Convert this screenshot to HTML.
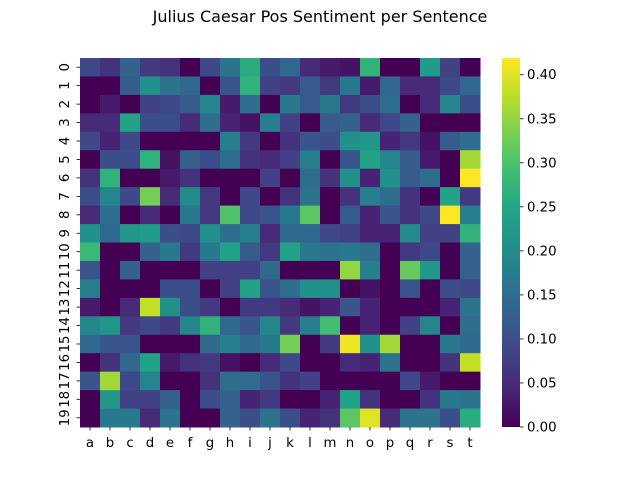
<!DOCTYPE html>
<html><head><meta charset="utf-8"><style>
body{margin:0;background:#fff;}
svg{display:block;font-family:"DejaVu Sans","Liberation Sans",sans-serif;}
</style></head><body>
<svg id="chart" width="640" height="480" viewBox="0 0 640 480" xmlns="http://www.w3.org/2000/svg">
<defs><linearGradient id="vg" x1="0" y1="1" x2="0" y2="0">
<stop offset="0" stop-color="#440154"/><stop offset="0.1" stop-color="#482475"/><stop offset="0.2" stop-color="#414487"/><stop offset="0.3" stop-color="#355f8d"/><stop offset="0.4" stop-color="#2a788e"/><stop offset="0.5" stop-color="#21918c"/><stop offset="0.6" stop-color="#22a884"/><stop offset="0.7" stop-color="#44bf70"/><stop offset="0.8" stop-color="#7ad151"/><stop offset="0.9" stop-color="#bddf26"/><stop offset="1" stop-color="#fde725"/>
</linearGradient></defs>
<text x="320" y="22" text-anchor="middle" font-size="16">Julius Caesar Pos Sentiment per Sentence</text>
<g id="cells"></g>
<g id="xaxis"></g>
<g id="yaxis"></g>
<rect x="502" y="58" width="18" height="369" fill="url(#vg)"/>
<g id="cbaxis"></g>
</svg>
<script>
const cols = ["a","b","c","d","e","f","g","h","i","j","k","l","m","n","o","p","q","r","s","t"];
const rows = ["0","1","2","3","4","5","6","7","8","9","10","11","12","13","14","15","16","17","18","19"];
const cbTicks = [0,0.05,0.10,0.15,0.20,0.25,0.30,0.35,0.40];
const cbLabels = ["0.00","0.05","0.10","0.15","0.20","0.25","0.30","0.35","0.40"];
const values = [
[0.09,0.06,0.13,0.07,0.06,0,0.09,0.16,0.26,0.10, 0.14,0.05,0.03,0.02,0.27,0,0,0.23,0.08,0],
[0,0,0.12,0.21,0.16,0.14,0,0.11,0.27,0.08, 0.07,0.12,0.07,0.17,0.03,0.14,0.05,0.05,0.09,0.14],
[0,0.03,0,0.08,0.09,0.12,0.19,0.03,0.15,0, 0.17,0.12,0.17,0.07,0.10,0.15,0,0.05,0.19,0.10],
[0.05,0.05,0.24,0.10,0.10,0.05,0.15,0.04,0.02,0.18, 0.08,0,0.12,0.13,0.05,0.09,0.13,0,0,0],
[0.09,0.04,0.09,0,0,0,0,0.18,0.07,0, 0.06,0.11,0.10,0.21,0.22,0.04,0.07,0.02,0.12,0.15],
[0,0.10,0.10,0.27,0.02,0.13,0.10,0.15,0.06,0.05, 0.08,0.18,0,0.11,0.24,0.19,0.12,0.03,0,0.36],
[0.06,0.27,0,0,0.03,0.06,0,0,0,0.08, 0,0.15,0.06,0.21,0.04,0.21,0.12,0.15,0,0.42],
[0.10,0.19,0.09,0.33,0.05,0.20,0.07,0,0.09,0, 0.06,0.16,0,0.06,0.18,0.15,0.06,0,0.24,0.07],
[0.05,0.15,0,0.05,0,0.17,0.07,0.30,0.09,0.11, 0.17,0.31,0,0.12,0.04,0.11,0.06,0.09,0.42,0.18],
[0.21,0.14,0.22,0.23,0.10,0.09,0.21,0.15,0.18,0.05, 0.14,0.14,0.09,0.08,0.04,0.04,0.20,0.08,0.08,0.27],
[0.28,0,0,0.13,0.17,0.07,0.17,0.24,0.12,0.07, 0.24,0.17,0.16,0.17,0.15,0,0.07,0.09,0,0.13],
[0.11,0,0.13,0,0,0,0.08,0.08,0.08,0.14, 0,0,0,0.35,0.18,0,0.32,0.22,0,0.13],
[0.18,0,0,0,0.10,0.10,0,0.08,0.24,0.11, 0.15,0.21,0.21,0,0.02,0,0.11,0,0.10,0.09],
[0.03,0,0.05,0.38,0.21,0.10,0.07,0,0.07,0.07, 0.05,0.02,0.04,0.11,0.04,0,0,0,0.04,0.16],
[0.19,0.22,0.07,0.09,0.07,0.19,0.27,0.14,0.11,0.19, 0.07,0.18,0.29,0,0.04,0,0.08,0.19,0,0.15],
[0.14,0.11,0.11,0,0,0,0.14,0.18,0.14,0.17, 0.33,0,0.07,0.41,0.21,0.36,0,0,0.17,0.14],
[0,0.06,0.14,0.24,0.03,0.06,0.07,0.02,0,0.05, 0.09,0,0,0.05,0.04,0.16,0,0,0.06,0.38],
[0.11,0.36,0.09,0.19,0,0,0.06,0.15,0.15,0.11, 0.06,0.08,0,0,0,0,0.09,0.03,0,0],
[0,0.22,0.08,0.08,0.13,0,0.10,0.13,0.04,0.07, 0,0,0.04,0.24,0.06,0,0,0.06,0.17,0.16],
[0,0.17,0.17,0.05,0.16,0,0,0.13,0.10,0.16, 0.10,0.04,0.06,0.31,0.40,0.05,0.16,0.16,0.10,0.26]
];
const VMAX = 0.419;
const X0=80, Y0=58, W=400, H=369;
const stops=["#440154","#482475","#414487","#355f8d","#2a788e","#21918c","#22a884","#44bf70","#7ad151","#bddf26","#fde725"];
function hex(c){return [1,3,5].map(i=>parseInt(c.substr(i,2),16));}
function viridis(t){t=Math.max(0,Math.min(1,t));const p=t*10,i=Math.min(9,Math.floor(p)),f=p-i;const a=hex(stops[i]),b=hex(stops[i+1]);return "rgb("+a.map((v,k)=>Math.round(v+(b[k]-v)*f)).join(",")+")";}
const xScale = i => X0 + i*W/cols.length;
const yScale = j => Y0 + j*H/rows.length;
const cbY = v => Y0 + H - v/VMAX*H;
const NS="http://www.w3.org/2000/svg";
function mk(tag,attrs,parent){const e=document.createElementNS(NS,tag);for(const k in attrs)e.setAttribute(k,attrs[k]);parent.appendChild(e);return e;}
const cells=document.getElementById('cells');
values.forEach((row,j)=>row.forEach((v,i)=>{
  const r=mk('rect',{x:xScale(i),y:yScale(j),width:W/cols.length+0.5,height:H/rows.length+0.5,fill:viridis(v/VMAX)},cells);
  
  
}));
const xa=document.getElementById('xaxis');
cols.forEach((c,i)=>{
  const cx=xScale(i)+W/cols.length/2;
  mk('line',{x1:cx,x2:cx,y1:427,y2:430.5,stroke:'#000','stroke-width':0.8},xa);
  const t=mk('text',{x:cx,y:447,'text-anchor':'middle','font-size':13.3},xa);
  t.textContent=c;
  
  
});
const ya=document.getElementById('yaxis');
rows.forEach((r,j)=>{
  const cy=yScale(j)+H/rows.length/2;
  mk('line',{x1:76.5,x2:80,y1:cy,y2:cy,stroke:'#000','stroke-width':0.8},ya);
  const t=mk('text',{x:0,y:0,'text-anchor':'middle','font-size':13.3,transform:'translate(69,'+cy+') rotate(-90)'},ya);
  t.textContent=r;
  
  
});
const cb=document.getElementById('cbaxis');
cbTicks.forEach((v,k)=>{
  const y=cbY(v);
  mk('line',{x1:520,x2:523.5,y1:y,y2:y,stroke:'#000','stroke-width':0.8},cb);
  const t=mk('text',{x:527,y:y+4.5,'font-size':13.3},cb);
  t.textContent=cbLabels[k];
  
  
});
</script>
</body></html>
